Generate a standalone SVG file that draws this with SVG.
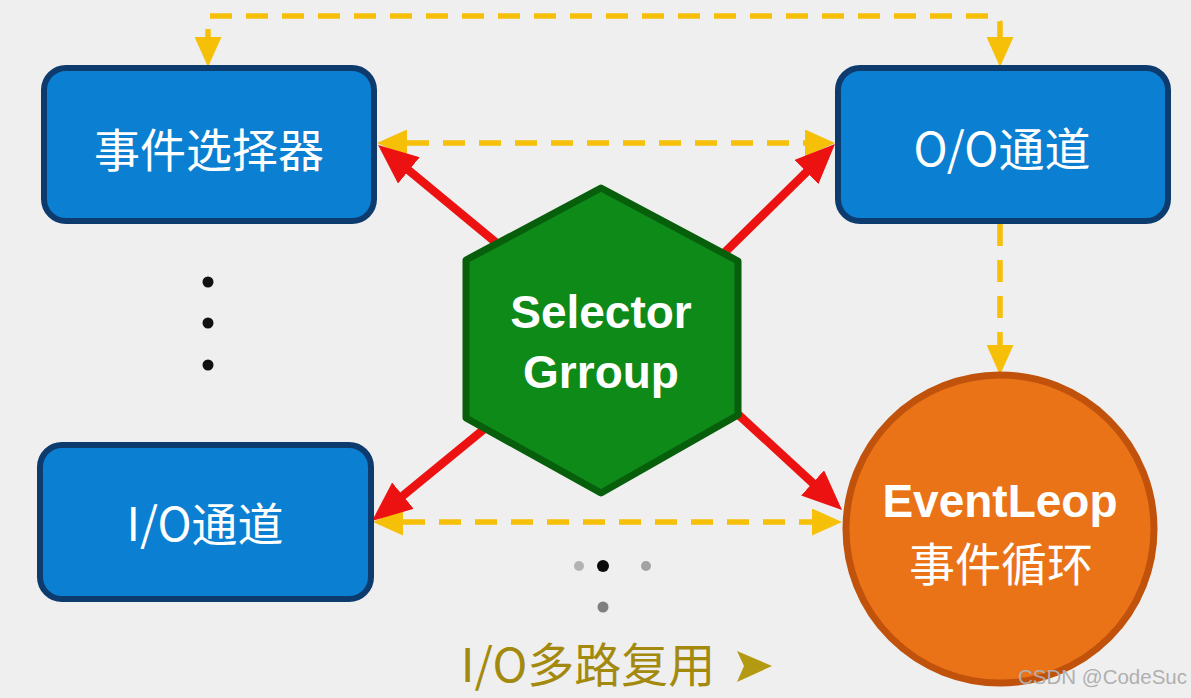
<svg xmlns="http://www.w3.org/2000/svg" width="1191" height="698" viewBox="0 0 1191 698">
<style>
.box{fill:#0b7fd1;stroke:#0d3b6e;stroke-width:6}
.boxtxt{font-family:"Noto Sans CJK SC","Noto Sans",sans-serif;font-size:46px;fill:#ffffff;text-anchor:middle}
.bold{font-family:"Liberation Sans",Arial,sans-serif;font-weight:bold;font-size:46px;fill:#ffffff;text-anchor:middle}
.gold{fill:none;stroke:#f6bf08;stroke-width:5.5;stroke-dasharray:22 14;stroke-linejoin:round}
.red{fill:none;stroke:#ec1212;stroke-width:8.5}
</style>
<defs>
<marker id="ga" markerUnits="userSpaceOnUse" markerWidth="30" markerHeight="27" refX="0" refY="13.5" orient="auto-start-reverse" viewBox="0 0 30 27">
<path d="M0,0 L30,13.5 L0,27 z" fill="#f6bf08"/>
</marker>
<marker id="ra" markerUnits="userSpaceOnUse" markerWidth="40" markerHeight="34" refX="25" refY="17" orient="auto" viewBox="0 0 40 34">
<path d="M0,0 L40,17 L0,34 z" fill="#ec1212"/>
</marker>
</defs>
<rect x="0" y="0" width="1191" height="698" fill="#efefef"/>
<g id="connectors">
<path class="gold" d="M210,16 H992 Q1000,16 1000,24 V37" marker-end="url(#ga)"/>
<path class="gold" d="M208,29 V37" stroke-dasharray="none" marker-end="url(#ga)"/>
<path class="gold" d="M407,143 H805" marker-start="url(#ga)" marker-end="url(#ga)"/>
<path class="gold" d="M1000,224 V345" marker-end="url(#ga)"/>
<path class="gold" d="M403,522 H812" marker-start="url(#ga)" marker-end="url(#ga)"/>
<path class="red" d="M505,250 L389.6,154.5" marker-end="url(#ra)"/>
<path class="red" d="M716,261 L824.3,154.5" marker-end="url(#ra)"/>
<path class="red" d="M494,421 L383.6,511.5" marker-end="url(#ra)"/>
<path class="red" d="M729,406 L831,499.8" marker-end="url(#ra)"/>
</g>
<g id="node-selector">
<rect class="box" x="44" y="68" width="330" height="153" rx="22"/>
<text class="boxtxt" x="209" y="167">事件选择器</text>
</g>
<g id="node-oo">
<rect class="box" x="838" y="68" width="330" height="153" rx="22"/>
<text class="boxtxt" x="1002" y="166">O/O通道</text>
</g>
<g id="node-io">
<rect class="box" x="40" y="445" width="331" height="154" rx="22"/>
<text class="boxtxt" x="205" y="541">I/O通道</text>
</g>
<g id="node-group">
<polygon points="601,188 738,261 738,415 601,493 466,418 466,260" fill="#0d8a17" stroke="#075f0c" stroke-width="7" stroke-linejoin="round"/>
<text class="bold" x="601" y="328">Selector</text>
<text class="bold" x="601" y="388">Grroup</text>
</g>
<g id="node-eventloop">
<circle cx="1000" cy="529" r="154" fill="#ea7318" stroke="#c0520c" stroke-width="7"/>
<text class="bold" x="1000" y="517">EventLeop</text>
<text class="boxtxt" x="1001" y="581">事件循环</text>
</g>
<g id="dots">
<circle cx="208" cy="282" r="5.5" fill="#111"/>
<circle cx="208" cy="323" r="5.5" fill="#111"/>
<circle cx="208" cy="365" r="5.5" fill="#111"/>
<circle cx="579" cy="566" r="5" fill="#b3b3b3"/>
<circle cx="603" cy="566" r="6" fill="#0a0a0a"/>
<circle cx="646" cy="566" r="5" fill="#a3a3a3"/>
<circle cx="603" cy="607" r="5.5" fill="#7f7f7f"/>
</g>
<g id="label">
<text x="588" y="682" font-family="Noto Sans CJK SC, Noto Sans, sans-serif" font-size="47" fill="#a38a0e" text-anchor="middle">I/O多路复用</text>
<polygon points="737,651 772,666 737,682 744,666" fill="#b39a12"/>
</g>
<text x="1187" y="684" font-family="Liberation Sans, Arial, sans-serif" font-size="20.5" fill="#b0b0b0" text-anchor="end">CSDN @CodeSuc</text>
</svg>
